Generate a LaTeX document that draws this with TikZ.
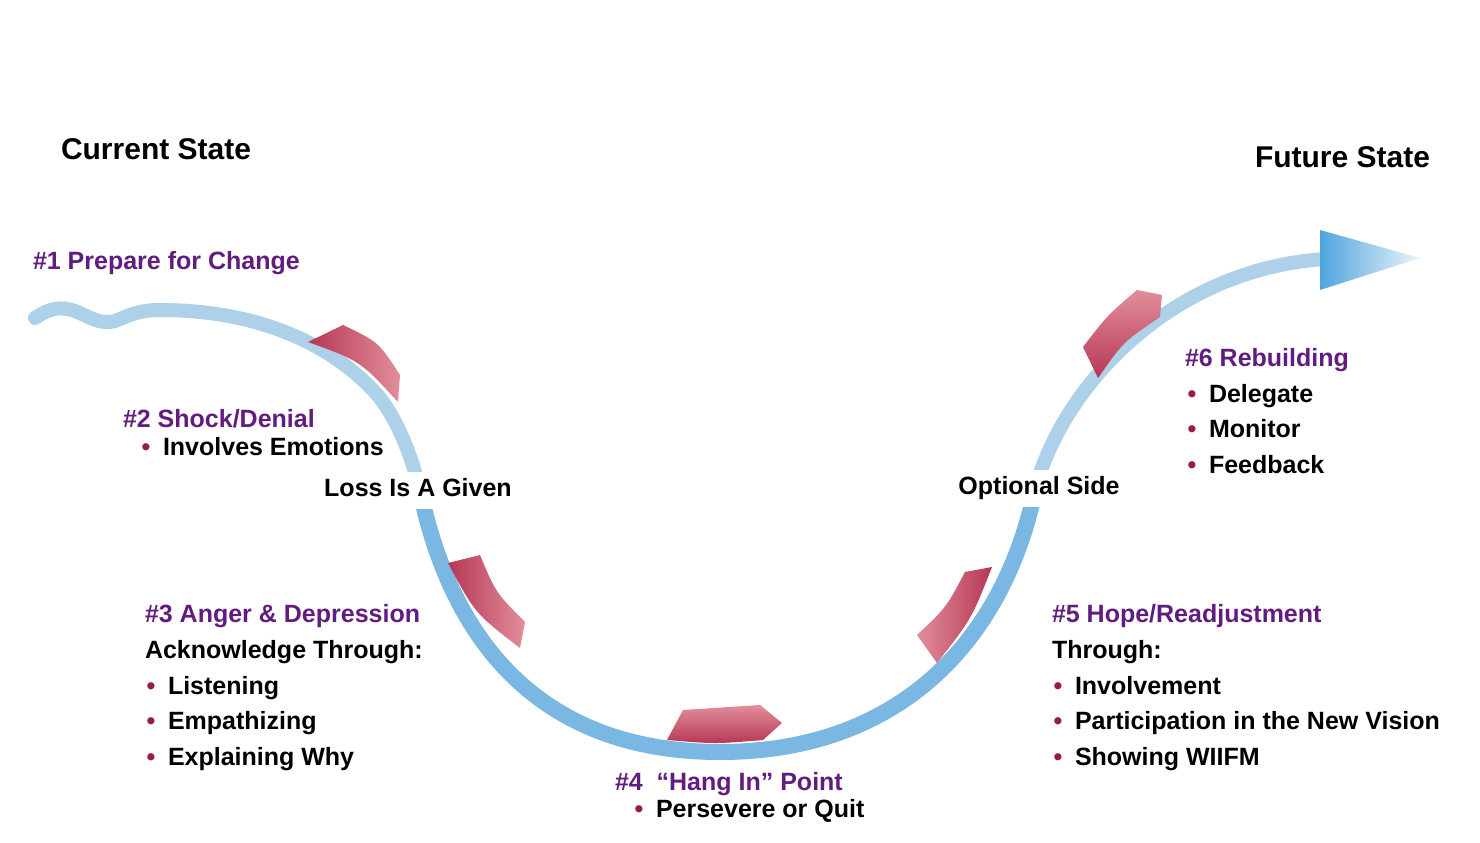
\documentclass[tikz,border=0pt]{standalone}
\usepackage{fontspec}
\setmainfont{Liberation Sans}
\definecolor{purp}{RGB}{98,28,128}
\definecolor{bul}{RGB}{150,30,65}
\definecolor{curvepale}{RGB}{172,209,233}
\definecolor{curvedark}{RGB}{122,183,226}
\definecolor{mkdark}{RGB}{182,55,86}
\definecolor{mklight}{RGB}{226,142,154}
\definecolor{arrowdark}{RGB}{80,165,222}
\definecolor{arrowlight}{RGB}{235,244,250}
\newcommand\bulmark{\llap{\textcolor{bul}{\textbullet}\hspace{12.6pt}}}
\begin{document}
\begin{tikzpicture}[x=1pt,y=-1pt,
  every node/.style={inner sep=0pt, outer sep=0pt},
  ttl/.style={font=\bfseries\fontsize{30}{36}\selectfont, anchor=base west},
  hd/.style={font=\bfseries\fontsize{25}{30}\selectfont, text=purp, anchor=base west},
  itm/.style={font=\bfseries\fontsize{25}{30}\selectfont, anchor=base west},
  onpath/.style={font=\bfseries\fontsize{25}{30}\selectfont, anchor=base, fill=white,
    inner sep=5pt, text height=19pt, text depth=8pt},
  band/.style={draw=curvepale, line width=14pt, line cap=round, line join=round},
  bandlow/.style={draw=curvedark, line width=16pt, line cap=butt},
  mk/.style={draw=none},
]
\useasboundingbox (0,0) rectangle (1480,843);
\fill[white] (0,0) rectangle (1480,843);

% junction points (hidden under the labels on the curve)
\coordinate (cstart) at (35,318);
\coordinate (jl) at (421,495);
\coordinate (jr) at (1034,495);
\coordinate (bot) at (720,752);
\coordinate (cend) at (1325,259);

% main curve (pale)
\draw[band] (cstart) .. controls (50,308) and (60,306) .. (75,311)
  .. controls (90,317) and (100,325) .. (115,321)
  .. controls (128,316) and (138,310) .. (160,310)
  .. controls (260,310) and (330,345) .. (373,390)
  .. controls (395,413) and (412,455) .. (jl)
  .. controls (447,615) and (520,752) .. (bot)
  .. controls (900,752) and (1002,640) .. (jr)
  .. controls (1055,400) and (1160,270) .. (cend);
% lower part of the curve (deeper blue)
\draw[bandlow] (jl) .. controls (447,615) and (520,752) .. (bot)
  .. controls (900,752) and (1002,640) .. (jr);

% arrow head
\coordinate (abase1) at (1320,230);
\coordinate (atip) at (1420,258);
\coordinate (abase2) at (1320,290);
\shade[left color=arrowdark, right color=arrowlight] (abase1) -- (atip) -- (abase2) -- cycle;

% markers
\shade[mk, left color=mkdark, right color=mklight] (308,342) -- (343,325) .. controls (378.5,342) .. (400,375) -- (398,402) .. controls (360.3,361) .. (308,342) -- cycle;
\shade[mk, left color=mkdark, right color=mklight] (448,563) -- (480,555) .. controls (495.9,592.9) .. (525,622) -- (520,648) .. controls (474.9,613.3) .. (448,563) -- cycle;
\shade[mk, bottom color=mkdark, top color=mklight] (667,740) -- (683,710) -- (760,705) -- (782,723) -- (763,740) .. controls (715,744) .. (667,740) -- cycle;
\shade[mk, left color=mklight, right color=mkdark] (917,635) .. controls (946.3,607.5) .. (965,572) -- (992,567) .. controls (971.5,619) .. (937,663) -- cycle;
\shade[mk, bottom color=mkdark, top color=mklight] (1098,378) -- (1083,347) .. controls (1107,315.7) .. (1137,290) -- (1162,295) -- (1160,317) .. controls (1123.4,341.7) .. (1098,378) -- cycle;

% titles
\node[ttl] (cur) at (61,159) {Current State};
\node[ttl] (fut) at (1255,167) {Future State};

% stage 1
\node[hd] (s1) at (33,269) {\#1 Prepare for Change};
% stage 2
\node[hd] (s2) at (123,427) {\#2 Shock/Denial};
\node[itm] (s2a) at (163,455) {\bulmark Involves Emotions};
\node[onpath] (loss) at (418,496) {Loss Is A Given};
% stage 3
\node[hd] (s3) at (145,622) {\#3 Anger \& Depression};
\node[itm] (s3t) at (145,658) {Acknowledge Through:};
\node[itm] (s3a) at (168,694) {\bulmark Listening};
\node[itm] (s3b) at (168,729) {\bulmark Empathizing};
\node[itm] (s3c) at (168,765) {\bulmark Explaining Why};
% stage 4
\node[hd] (s4) at (615,790) {\#4\ \ ``Hang In'' Point};
\node[itm] (s4a) at (656,817) {\bulmark Persevere or Quit};
% stage 5
\node[onpath] (opt) at (1039,494) {Optional Side};
\node[hd] (s5) at (1052,622) {\#5 Hope/Readjustment};
\node[itm] (s5t) at (1052,658) {Through:};
\node[itm] (s5a) at (1075,694) {\bulmark Involvement};
\node[itm] (s5b) at (1075,729) {\bulmark Participation in the New Vision};
\node[itm] (s5c) at (1075,765) {\bulmark Showing WIIFM};
% stage 6
\node[hd] (s6) at (1185,366) {\#6 Rebuilding};
\node[itm] (s6a) at (1209,402) {\bulmark Delegate};
\node[itm] (s6b) at (1209,437) {\bulmark Monitor};
\node[itm] (s6c) at (1209,473) {\bulmark Feedback};
\end{tikzpicture}
\end{document}
